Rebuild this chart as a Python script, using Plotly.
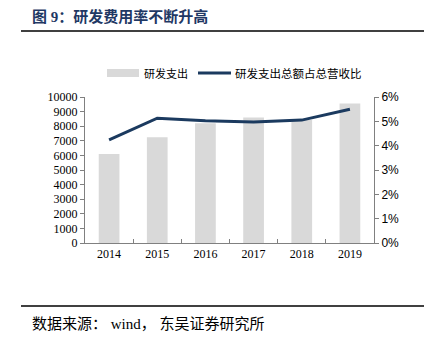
import plotly.graph_objects as go

years = ["2014", "2015", "2016", "2017", "2018", "2019"]
rd_spend = [6100, 7250, 8200, 8600, 8420, 9560]
rd_ratio = [4.24, 5.13, 5.02, 4.97, 5.05, 5.50]

W, H = 433, 352
L, R, T, B = 85, 374, 97, 243

def px(x):
    return (x - L) / (R - L)

def py(y):
    return (B - y) / (B - T)

fig = go.Figure()
fig.add_trace(go.Bar(x=years, y=rd_spend, name="研发支出", marker_color="#D9D9D9",
                     marker_line_width=0, yaxis="y"))
fig.add_trace(go.Scatter(x=years, y=rd_ratio, name="研发支出总额占总营收比", mode="lines",
                         line=dict(color="#1B3A5F", width=3), yaxis="y2"))

serif = "Liberation Serif, Times New Roman, serif"
sans = "Liberation Sans, Arial, sans-serif"
cjk = "Liberation Serif, Noto Sans CJK SC"

fig.update_layout(
    width=W, height=H,
    margin=dict(l=L, r=W - R, t=T, b=H - B),
    paper_bgcolor="white", plot_bgcolor="white",
    bargap=0.57,
    showlegend=False,
    xaxis=dict(type="category", showline=True, linecolor="#808080", linewidth=1,
               ticks="inside", tickson="boundaries", ticklen=4, tickcolor="#808080",
               tickfont=dict(family=serif, size=12, color="#000"), showgrid=False),
    yaxis=dict(range=[0, 10000], dtick=1000, tickformat="d", showline=True, linecolor="#808080",
               ticks="outside", ticklen=4, tickcolor="#808080", showgrid=False,
               tickfont=dict(family=serif, size=12, color="#000"), zeroline=False),
    yaxis2=dict(range=[0, 6], dtick=1, overlaying="y", side="right", showline=True,
                linecolor="#808080", ticks="outside", ticklen=4, tickcolor="#808080",
                ticksuffix="%", showgrid=False, zeroline=False,
                tickfont=dict(family=sans, size=12, color="#000")),
)

# legend drawn manually
fig.add_shape(type="rect", xref="paper", yref="paper", x0=px(107), x1=px(139),
              y0=py(77), y1=py(69), fillcolor="#D9D9D9", line_width=0)
fig.add_annotation(xref="paper", yref="paper", x=px(142), y=py(73), text="研发支出",
                   showarrow=False, xanchor="left", yanchor="middle",
                   font=dict(family=cjk, size=11, color="#000"))
fig.add_shape(type="line", xref="paper", yref="paper", x0=px(198), x1=px(231),
              y0=py(73), y1=py(73), line=dict(color="#1B3A5F", width=3))
fig.add_annotation(xref="paper", yref="paper", x=px(233), y=py(73), text="研发支出总额占总营收比",
                   showarrow=False, xanchor="left", yanchor="middle",
                   font=dict(family=cjk, size=11.5, color="#000"))

# title & rules
fig.add_annotation(xref="paper", yref="paper", x=px(30), y=py(16), text="<b>图 9：研发费用率不断升高</b>",
                   showarrow=False, xanchor="left", yanchor="middle",
                   font=dict(family=cjk, size=15, color="#1F3864"))
fig.add_shape(type="line", xref="paper", yref="paper", x0=px(21), x1=px(424),
              y0=py(31), y1=py(31), line=dict(color="#000", width=1.5))
fig.add_shape(type="line", xref="paper", yref="paper", x0=px(21), x1=px(424),
              y0=py(306), y1=py(306), line=dict(color="#000", width=1.5))
fig.add_annotation(xref="paper", yref="paper", x=px(30), y=py(324), text="数据来源： wind， 东吴证券研究所",
                   showarrow=False, xanchor="left", yanchor="middle",
                   font=dict(family=cjk, size=15, color="#000"))

fig.write_html("out.html")
